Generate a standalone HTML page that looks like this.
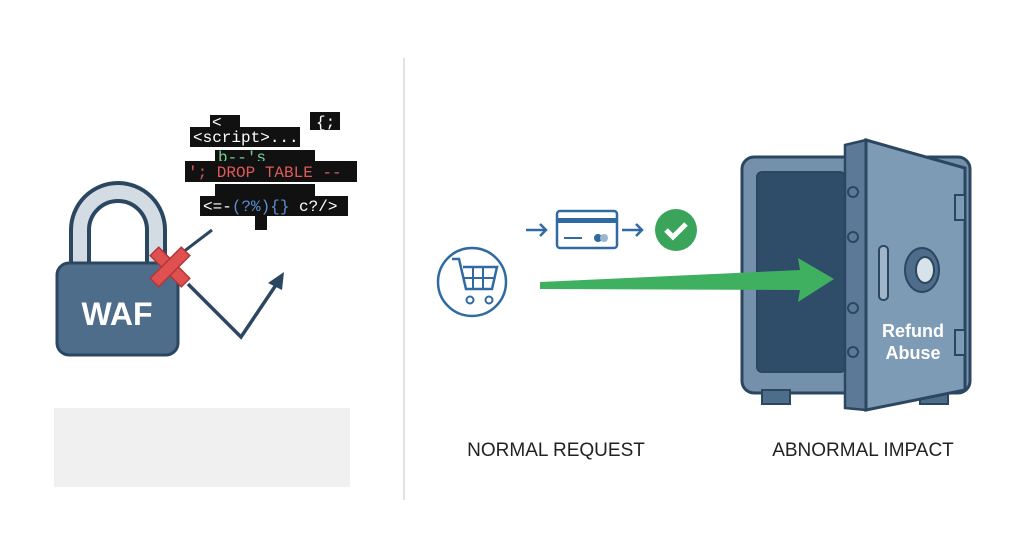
<!DOCTYPE html>
<html><head><style>body{margin:0;background:#fff}svg{display:block}</style></head><body>
<svg width="1024" height="559" viewBox="0 0 1024 559" xmlns="http://www.w3.org/2000/svg" font-family="Liberation Sans, sans-serif">
<rect width="1024" height="559" fill="#fff"/>
<line x1="404" y1="58" x2="404" y2="500" stroke="#d8d8d8" stroke-width="1.5"/>
<rect x="54" y="408" width="296" height="79" fill="#f0f0f0"/>
<!-- lock -->
<path d="M80 265 V230 A38 38 0 0 1 156 230 V265" fill="none" stroke="#2b4660" stroke-width="22"/>
<path d="M80 265 V230 A38 38 0 0 1 156 230 V265" fill="none" stroke="#d3dbe3" stroke-width="14"/>
<rect x="57" y="263" width="121" height="92" rx="12" fill="#4e6d8a" stroke="#2b4660" stroke-width="3"/>
<text x="117" y="325" fill="#fff" font-size="32" font-weight="bold" text-anchor="middle">WAF</text>
<line x1="170" y1="262" x2="212" y2="230" stroke="#2b4660" stroke-width="3"/>
<polyline points="188,284 241,337 278,282" fill="none" stroke="#2b4660" stroke-width="3.5"/>
<polygon points="284,272 268,283 282,290" fill="#2b4660"/>
<g transform="translate(170,267) rotate(45)">
<rect x="-22" y="-6" width="44" height="12" fill="#e05050" stroke="#b03838" stroke-width="1.5"/>
<rect x="-6" y="-22" width="12" height="44" fill="#e05050" stroke="#b03838" stroke-width="1.5"/>
</g>
<g font-family="Liberation Mono, monospace" font-size="16">
<rect x="210" y="115" width="30" height="12" fill="#111"/><text x="212" y="127" fill="#fff">&lt;</text>
<rect x="310" y="112" width="30" height="18" fill="#111"/><text x="316" y="127" fill="#fff">{;</text>
<rect x="190" y="127" width="110" height="20" fill="#111"/><text x="193" y="142" fill="#fff">&lt;script&gt;...</text>
<rect x="215" y="150" width="100" height="14" fill="#111"/><text x="218" y="162" fill="#8fb" opacity=".8">b--'s</text>
<rect x="185" y="161" width="172" height="21" fill="#111"/><text x="188" y="177" fill="#e05a5a">'; DROP TABLE --</text>
<rect x="215" y="184" width="100" height="12" fill="#111"/>
<rect x="200" y="196" width="148" height="20" fill="#111"/><text x="203" y="211" fill="#fff">&lt;=-<tspan fill="#5b8fd0">(?%){}</tspan> c?/&gt;</text>
<rect x="255" y="216" width="12" height="14" fill="#111"/>
</g>
<!-- cart -->
<circle cx="472" cy="282" r="34" fill="none" stroke="#2f6aa3" stroke-width="2.5"/>
<path d="M452 259 h7 l7 30 h26 l5 -22 h-34" fill="none" stroke="#2f6aa3" stroke-width="2.5"/>
<path d="M463 278 h32 M473 267 v22 M483 267 v22" stroke="#2f6aa3" stroke-width="2"/>
<circle cx="470" cy="300" r="3.5" fill="none" stroke="#2f6aa3" stroke-width="2"/><circle cx="489" cy="300" r="3.5" fill="none" stroke="#2f6aa3" stroke-width="2"/>
<path d="M526 230 h20 m-6 -6 l6 6 -6 6" fill="none" stroke="#2f6aa3" stroke-width="2.5"/>
<rect x="557" y="211" width="60" height="37" rx="3" fill="none" stroke="#2f6aa3" stroke-width="2.5"/>
<rect x="557" y="218" width="60" height="5" fill="#2f6aa3"/>
<line x1="564" y1="238" x2="582" y2="238" stroke="#2f6aa3" stroke-width="2"/>
<circle cx="598" cy="238" r="4" fill="#2f6aa3"/><circle cx="604" cy="238" r="4" fill="#9bb5d0"/>
<path d="M622 230 h20 m-6 -6 l6 6 -6 6" fill="none" stroke="#2f6aa3" stroke-width="2.5"/>
<circle cx="676" cy="230" r="21" fill="#3aa55a"/>
<path d="M666 230 l7 7 13 -13" fill="none" stroke="#fff" stroke-width="5"/>
<!-- safe -->
<rect x="742" y="157" width="228" height="236" rx="12" fill="#7590aa" stroke="#2b4660" stroke-width="3"/>
<rect x="757" y="172" width="88" height="200" rx="5" fill="#2f4d68" stroke="#2b4660" stroke-width="2"/>
<rect x="762" y="390" width="28" height="14" fill="#4e6d8a" stroke="#2b4660" stroke-width="2"/>
<rect x="920" y="390" width="28" height="14" fill="#4e6d8a" stroke="#2b4660" stroke-width="2"/>
<polygon points="540,282 800,270 798,258 834,279 798,302 800,290 540,289" fill="#3fb060"/>
<polygon points="845,145 866,140 866,410 845,408" fill="#5c7a97" stroke="#2b4660" stroke-width="2.5"/>
<polygon points="866,140 965,168 965,390 866,410" fill="#7e9bb5" stroke="#2b4660" stroke-width="3"/>
<rect x="955" y="195" width="10" height="25" fill="#7e9bb5" stroke="#2b4660" stroke-width="2"/>
<rect x="955" y="330" width="10" height="25" fill="#7e9bb5" stroke="#2b4660" stroke-width="2"/>
<g fill="#5c7a97" stroke="#2b4660" stroke-width="2">
<circle cx="853" cy="192" r="5"/><circle cx="853" cy="237" r="5"/><circle cx="853" cy="308" r="5"/><circle cx="853" cy="352" r="5"/>
</g>
<rect x="879" y="246" width="9" height="54" rx="4" fill="#9fb6ca" stroke="#2b4660" stroke-width="2"/>
<ellipse cx="922" cy="270" rx="17" ry="22" fill="#4e6d8a" stroke="#2b4660" stroke-width="2"/>
<ellipse cx="925" cy="270" rx="9" ry="13" fill="#d8e2ea" stroke="#2b4660" stroke-width="2"/>
<text x="913" y="337" fill="#fff" font-size="18" font-weight="bold" text-anchor="middle">Refund</text>
<text x="913" y="359" fill="#fff" font-size="18" font-weight="bold" text-anchor="middle">Abuse</text>
<text x="556" y="456" fill="#222" font-size="19" text-anchor="middle">NORMAL REQUEST</text>
<text x="863" y="456" fill="#222" font-size="19" text-anchor="middle">ABNORMAL IMPACT</text>
</svg>
</body></html>
